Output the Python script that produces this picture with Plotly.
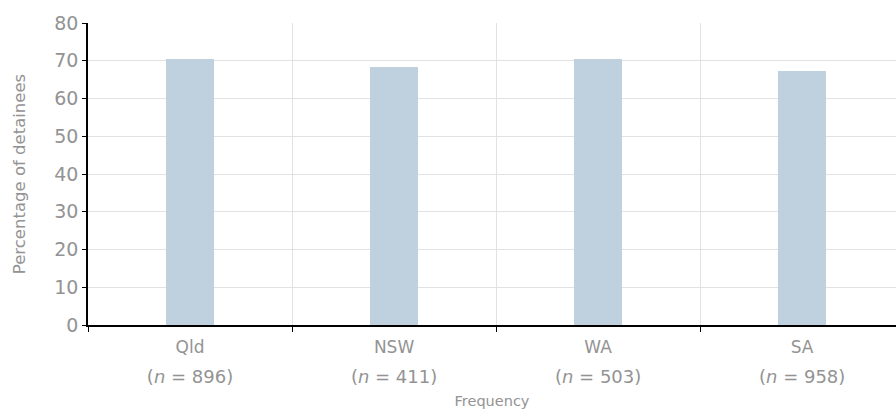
import plotly.graph_objects as go

# Share of detainees by jurisdiction
jurisdictions = ["Qld", "NSW", "WA", "SA"]
sample_sizes = [896, 411, 503, 958]
percentages = [70.4, 68.3, 70.5, 67.3]

n_labels = [f"(<i>n</i> = {n})" for n in sample_sizes]

TEXT = "#939393"
GRID = "#e2e2e2"
FONT = "DejaVu Sans"

fig = go.Figure()
fig.add_trace(go.Bar(
    x=jurisdictions,
    y=percentages,
    width=0.235,
    marker=dict(color="#bfd1df", line=dict(width=0)),
    hoverinfo="x+y",
))

x_range = [-0.5, 3.46]

fig.update_layout(
    width=896,
    height=412,
    margin=dict(l=88, r=0, t=23, b=87),
    paper_bgcolor="white",
    plot_bgcolor="white",
    showlegend=False,
    font=dict(family=FONT, color=TEXT, size=15),
    xaxis=dict(
        type="category",
        range=x_range,
        tickson="boundaries",
        showgrid=True,
        gridcolor=GRID,
        gridwidth=1,
        showline=True,
        linecolor="black",
        linewidth=1.5,
        ticks="outside",
        ticklen=5,
        tickcolor="black",
        ticklabelstandoff=6,
        tickfont=dict(size=17, color=TEXT, family=FONT),
        title=dict(text="Frequency", font=dict(size=14.5, color=TEXT, family=FONT), standoff=40),
        zeroline=False,
    ),
    xaxis2=dict(
        overlaying="x",
        side="bottom",
        range=x_range,
        tickvals=[0, 1, 2, 3],
        ticktext=n_labels,
        showgrid=False,
        showline=False,
        zeroline=False,
        ticks="",
        ticklabelstandoff=39,
        tickfont=dict(size=18, color=TEXT, family=FONT),
    ),
    yaxis=dict(
        range=[0, 80],
        dtick=10,
        showgrid=True,
        gridcolor=GRID,
        gridwidth=1,
        showline=True,
        linecolor="black",
        linewidth=1.5,
        ticks="outside",
        ticklen=4,
        tickcolor="black",
        ticklabelstandoff=0,
        tickfont=dict(size=19, color=TEXT, family=FONT),
        title=dict(text="Percentage of detainees", font=dict(size=16.5, color=TEXT, family=FONT), standoff=24),
        zeroline=False,
    ),
    bargap=0,
)

# invisible trace keeps the secondary axis active
fig.add_trace(go.Scatter(x=[0, 3], y=[0, 0], xaxis="x2", mode="markers",
                         marker=dict(opacity=0), hoverinfo="skip", showlegend=False))

fig.write_html("out.html")
